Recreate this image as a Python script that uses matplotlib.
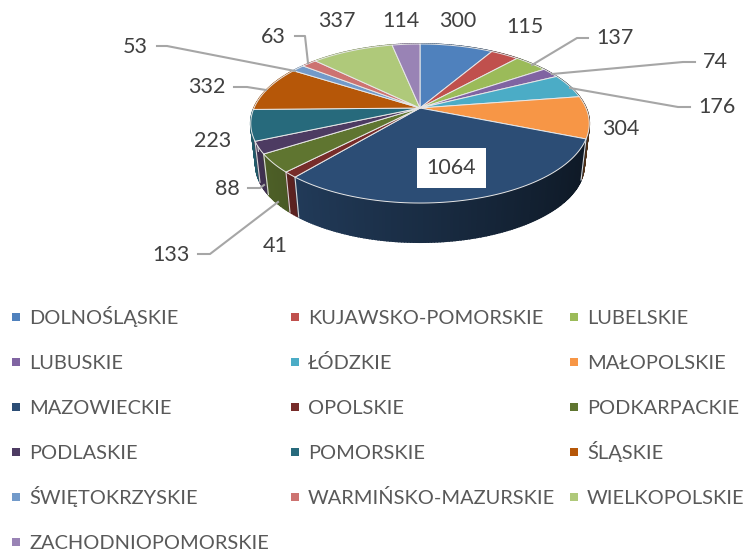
import numpy as np
import matplotlib
matplotlib.use('Agg')
import matplotlib.pyplot as plt
from matplotlib.colors import to_rgb

categories = ['DOLNOŚLĄSKIE', 'KUJAWSKO-POMORSKIE', 'LUBELSKIE', 'LUBUSKIE', 'ŁÓDZKIE', 'MAŁOPOLSKIE',
              'MAZOWIECKIE', 'OPOLSKIE', 'PODKARPACKIE', 'PODLASKIE', 'POMORSKIE', 'ŚLĄSKIE',
              'ŚWIĘTOKRZYSKIE', 'WARMIŃSKO-MAZURSKIE', 'WIELKOPOLSKIE', 'ZACHODNIOPOMORSKIE']
values = [300, 115, 137, 74, 176, 304, 1064, 41, 133, 88, 223, 332, 53, 63, 337, 114]
colors = ['#4F81BD', '#C0504D', '#9BBB59', '#8064A2', '#4BACC6', '#F79646', '#2C4D75', '#772C2A',
          '#5F7530', '#4D3B62', '#276A7C', '#B65708', '#729ACA', '#CD7371', '#AFC97A', '#9983B5']

# label centres in pixels, same order as values
label_x = [458, 525, 615, 715, 717, 621, 451.5, 275, 171, 227, 213, 207, 135, 273, 337, 401]
label_y = [21, 27, 38, 62, 107, 129, 168, 246, 255, 189, 141, 87, 47, 37, 21, 21]

# leader lines for the small slices
leaders = {
    2: [(588, 38), (577, 38), (532, 65)],
    3: [(695, 62), (683, 62), (552, 74)],
    4: [(690, 107), (678, 107), (570, 88)],
    8: [(198, 254), (210, 254), (278, 202)],
    9: [(248, 188), (260, 188), (264, 185)],
    11: [(234, 87), (247, 87), (266, 90)],
    12: [(157, 46), (167, 46), (295, 71)],
    13: [(295, 36), (305, 36), (308, 63)],
}

CX, CY = 420, 108
R, A, K = 166, 76.5, 0.195
DEPTH, SHRINK = 42, 0.97


def project(theta, scale=1.0, dy=0.0):
    # tilted disc in perspective, theta clockwise from the top
    s, c = np.cos(theta), np.sin(theta)
    d = 1 + K * s
    return CX + scale * R * c / d, CY + dy - scale * A * s / d


fig = plt.figure(figsize=(7.45, 5.52), dpi=100)
ax = fig.add_axes([0, 0, 1, 1])
ax.set_xlim(0, 745)
ax.set_ylim(552, 0)
ax.axis('off')
plt.rcParams['font.family'] = ['Lato', 'DejaVu Sans']

edges = np.concatenate([[0], np.cumsum(values)]) / np.sum(values) * 2 * np.pi

# side wall first, back to front, then the top covers what should be hidden
quads = []
for i, col in enumerate(colors):
    n = max(3, int((edges[i + 1] - edges[i]) / 0.015))
    t = np.linspace(edges[i], edges[i + 1], n + 1)
    for a, b in zip(t[:-1], t[1:]):
        quads.append((-np.cos((a + b) / 2), i, a, b))
for _, i, a, b in sorted(quads):
    x1, y1 = project(a)
    x2, y2 = project(b)
    x3, y3 = project(b, SHRINK, DEPTH)
    x4, y4 = project(a, SHRINK, DEPTH)
    f = np.clip(0.58 - 0.28 * np.sin((a + b) / 2), 0.3, 0.9)
    shade = tuple(v * f for v in to_rgb(colors[i]))
    ax.fill([x1, x2, x3, x4], [y1, y2, y3, y4], color=shade, lw=1.2, zorder=2)

# thin light seams on the wall between slices
for e in edges:
    if np.cos(e) < 0.15:
        x1, y1 = project(e)
        x2, y2 = project(e, SHRINK, DEPTH)
        ax.plot([x1, x2], [y1, y2], color='#d9d9d9', lw=0.8, zorder=3)

# top face
for i, col in enumerate(colors):
    t = np.linspace(edges[i], edges[i + 1], 80)
    xs, ys = project(t)
    ax.fill(np.r_[CX, xs], np.r_[CY, ys], facecolor=col, edgecolor='#e8e8e8', lw=0.7,
            joinstyle='round', zorder=4)

for i, pts in leaders.items():
    ax.plot(*zip(*pts), color='#A6A6A6', lw=1.5, zorder=5, solid_joinstyle='round')

for i, v in enumerate(values):
    box = dict(fc='white', ec='none', pad=7) if v == max(values) else None
    ax.text(label_x[i], label_y[i], str(v), fontsize=15.5, color='#404040', ha='center',
            va='center', bbox=box, zorder=6)

# legend, three columns
col_x = [12, 291, 570]
row_y = [317, 362, 407, 452, 497, 542]
for i, name in enumerate(categories):
    x, y = col_x[i % 3], row_y[i // 3]
    ax.fill([x, x + 8, x + 8, x], [y - 4, y - 4, y + 4, y + 4], color=colors[i], lw=0)
    ax.text(x + 17, y + 7, name, fontsize=14.4, color='#595959', ha='left', va='baseline')

fig.savefig('out.png', dpi=100)
